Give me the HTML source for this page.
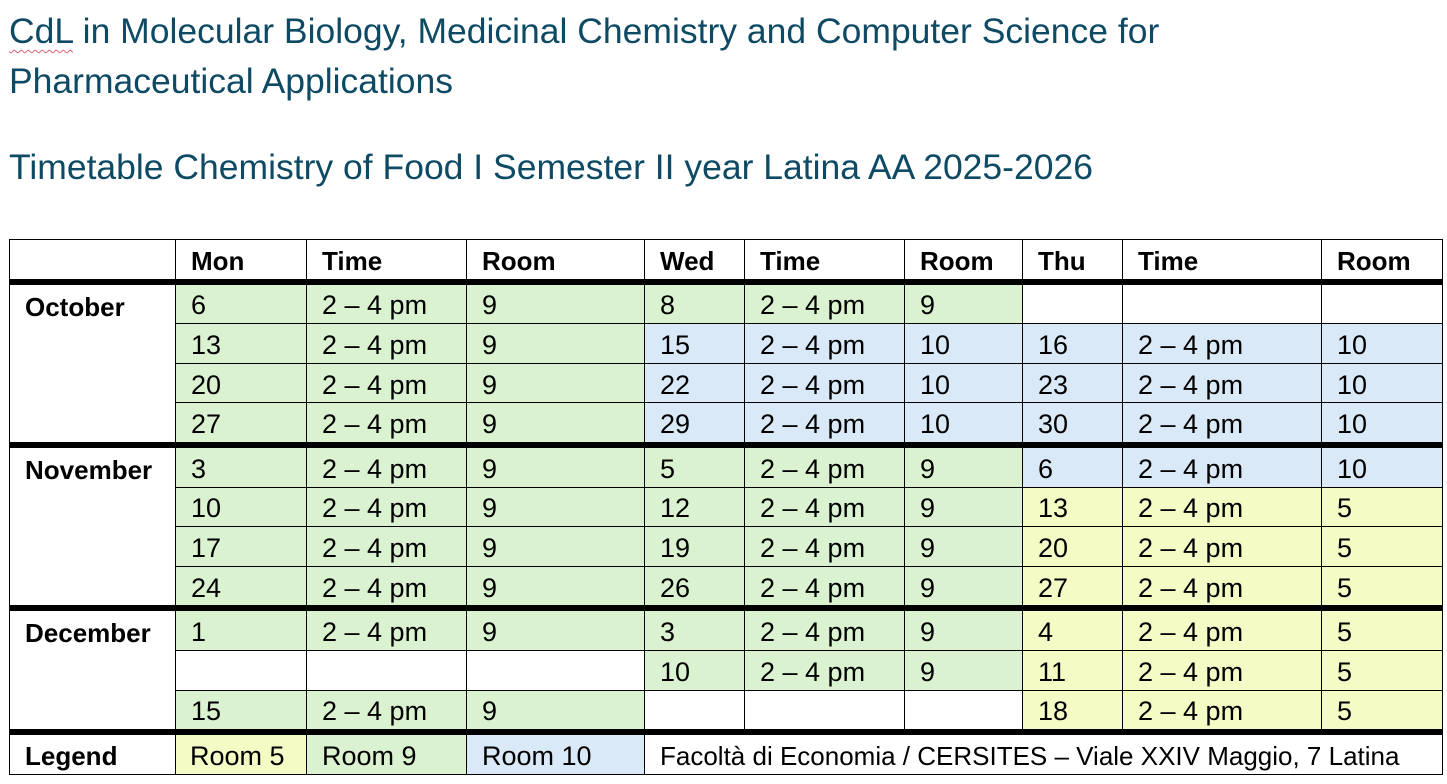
<!DOCTYPE html>
<html><head><meta charset="utf-8">
<style>
body{margin:0;width:1447px;height:784px;background:#fff;overflow:hidden;position:relative;font-family:"Liberation Sans",sans-serif}
.t{position:absolute;left:9px;color:#0e4a64;font-size:35.5px;white-space:nowrap;line-height:1}
.u{text-decoration:underline wavy #e06070;text-decoration-thickness:1px;text-underline-offset:6px}
table{position:absolute;left:9px;top:239px;width:1433px;border-collapse:collapse;table-layout:fixed;font-family:"Liberation Sans",sans-serif}
td{border:1px solid #000;font-size:27px;padding:4px 0 0 15px;height:34.6px;white-space:nowrap;overflow:hidden;vertical-align:middle;color:#000}
th{border:1px solid #000;font-size:26px;font-weight:bold;text-align:left;padding:4px 0 0 15px;height:34.6px}
tr.k td,tr.k th{border-bottom:6px solid #000}
td.m{vertical-align:top;font-weight:bold;padding-top:7px;font-size:26px}
.g{background:#daf2d0}.b{background:#dae9f7}.y{background:#f4fbc4}
</style></head><body>
<div class="t" style="top:14px"><span class="u">CdL</span> in Molecular Biology, Medicinal Chemistry and Computer Science for</div>
<div class="t" style="top:64px">Pharmaceutical Applications</div>
<div class="t" style="top:150px">Timetable Chemistry of Food I Semester II year Latina AA 2025-2026</div>
<table>
<colgroup><col style="width:166px"><col style="width:131px"><col style="width:160px"><col style="width:178px"><col style="width:100px"><col style="width:160px"><col style="width:118px"><col style="width:100px"><col style="width:199px"><col style="width:121px"></colgroup>
<tr class="k"><th></th><th>Mon</th><th>Time</th><th>Room</th><th>Wed</th><th>Time</th><th>Room</th><th>Thu</th><th>Time</th><th>Room</th></tr>
<tr><td class="m" rowspan="4" style="border-bottom:6px solid #000">October</td><td class="g">6</td><td class="g">2 – 4 pm</td><td class="g">9</td><td class="g">8</td><td class="g">2 – 4 pm</td><td class="g">9</td><td></td><td></td><td></td></tr>
<tr><td class="g">13</td><td class="g">2 – 4 pm</td><td class="g">9</td><td class="b">15</td><td class="b">2 – 4 pm</td><td class="b">10</td><td class="b">16</td><td class="b">2 – 4 pm</td><td class="b">10</td></tr>
<tr><td class="g">20</td><td class="g">2 – 4 pm</td><td class="g">9</td><td class="b">22</td><td class="b">2 – 4 pm</td><td class="b">10</td><td class="b">23</td><td class="b">2 – 4 pm</td><td class="b">10</td></tr>
<tr class="k"><td class="g">27</td><td class="g">2 – 4 pm</td><td class="g">9</td><td class="b">29</td><td class="b">2 – 4 pm</td><td class="b">10</td><td class="b">30</td><td class="b">2 – 4 pm</td><td class="b">10</td></tr>
<tr><td class="m" rowspan="4" style="border-bottom:6px solid #000">November</td><td class="g">3</td><td class="g">2 – 4 pm</td><td class="g">9</td><td class="g">5</td><td class="g">2 – 4 pm</td><td class="g">9</td><td class="b">6</td><td class="b">2 – 4 pm</td><td class="b">10</td></tr>
<tr><td class="g">10</td><td class="g">2 – 4 pm</td><td class="g">9</td><td class="g">12</td><td class="g">2 – 4 pm</td><td class="g">9</td><td class="y">13</td><td class="y">2 – 4 pm</td><td class="y">5</td></tr>
<tr><td class="g">17</td><td class="g">2 – 4 pm</td><td class="g">9</td><td class="g">19</td><td class="g">2 – 4 pm</td><td class="g">9</td><td class="y">20</td><td class="y">2 – 4 pm</td><td class="y">5</td></tr>
<tr class="k"><td class="g">24</td><td class="g">2 – 4 pm</td><td class="g">9</td><td class="g">26</td><td class="g">2 – 4 pm</td><td class="g">9</td><td class="y">27</td><td class="y">2 – 4 pm</td><td class="y">5</td></tr>
<tr><td class="m" rowspan="3" style="border-bottom:6px solid #000">December</td><td class="g">1</td><td class="g">2 – 4 pm</td><td class="g">9</td><td class="g">3</td><td class="g">2 – 4 pm</td><td class="g">9</td><td class="y">4</td><td class="y">2 – 4 pm</td><td class="y">5</td></tr>
<tr><td></td><td></td><td></td><td class="g">10</td><td class="g">2 – 4 pm</td><td class="g">9</td><td class="y">11</td><td class="y">2 – 4 pm</td><td class="y">5</td></tr>
<tr class="k"><td class="g">15</td><td class="g">2 – 4 pm</td><td class="g">9</td><td></td><td></td><td></td><td class="y">18</td><td class="y">2 – 4 pm</td><td class="y">5</td></tr>
<tr><td style="font-weight:bold;font-size:26px">Legend</td><td class="y" style="padding-left:14px">Room 5</td><td class="g">Room 9</td><td class="b">Room 10</td><td colspan="6" style="font-size:26px">Facoltà di Economia / CERSITES – Viale XXIV Maggio, 7 Latina</td></tr>
</table>
</body></html>
